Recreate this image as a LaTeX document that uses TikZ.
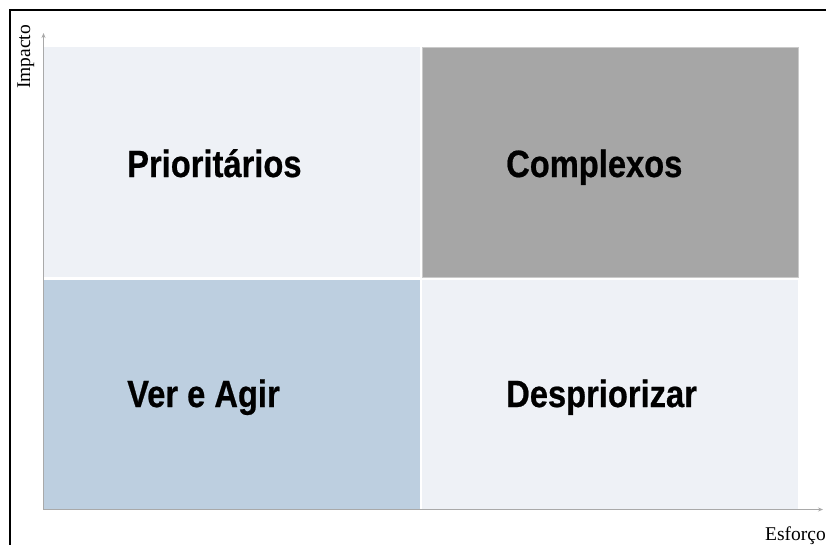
\documentclass[tikz,border=0pt]{standalone}
\usepackage{fontspec}
\setmainfont{Liberation Serif}
\newfontfamily\quadfont[FakeStretch=0.86,FakeBold=0.6]{Liberation Sans}
\usepackage{tikz}
\usetikzlibrary{positioning}
\usetikzlibrary{arrows.meta}
\definecolor{lightq}{HTML}{EEF1F6}
\definecolor{grayq}{HTML}{A6A6A6}
\definecolor{blueq}{HTML}{BDCFE0}
\definecolor{axisgray}{HTML}{A9A9A9}
\tikzstyle{quad}=[rectangle,inner sep=0pt,minimum width=376pt,minimum height=230pt,anchor=north west]
\tikzstyle{qlabel}=[font=\quadfont\bfseries\fontsize{38}{42}\selectfont,anchor=base west,inner sep=0pt]
\tikzstyle{axislabel}=[font=\fontsize{19.5}{22}\selectfont,inner sep=0pt]
\tikzstyle{axis}=[draw=axisgray,line width=1.2pt,-{Stealth[length=5pt,width=4pt]}]

\begin{document}
\begin{tikzpicture}[x=1pt,y=-1pt]
\useasboundingbox (0,0) rectangle (826,544);
\clip (0,0) rectangle (826,544);

%frame
\draw[line width=2pt] (9.5,600) -- (9.5,10) -- (900,10);

%quadrants
\node[quad,fill=lightq] (tl) at (44,47) {};
\node[quad,fill=grayq,draw=grayq!60,line width=0.6pt] (tr) at (422,47) {};
\node[quad,fill=blueq] (bl) at (44,280) {};
\node[quad,fill=lightq] (br) at (422,280) {};

%labels
\node[qlabel] (prio) at (127,177) {Prioritários};
\node[qlabel] (compl) at (506,177) {Complexos};
\node[qlabel] (agir) at (127,407) {Ver e Agir};
\node[qlabel] (despr) at (506,407) {Despriorizar};

%axes
\coordinate (origin) at (43.5,509.5);
\coordinate (ytop) at (43.5,33);
\coordinate (xend) at (823,509.5);
\draw[axis] (origin) -- (ytop);
\draw[axis] (origin) -- (xend);
\node[axislabel,rotate=90,anchor=base] (impacto) at (30,57) {Impacto};
\node[axislabel,anchor=base east] (esforco) at (826,540) {Esforço};
\end{tikzpicture}
\end{document}
